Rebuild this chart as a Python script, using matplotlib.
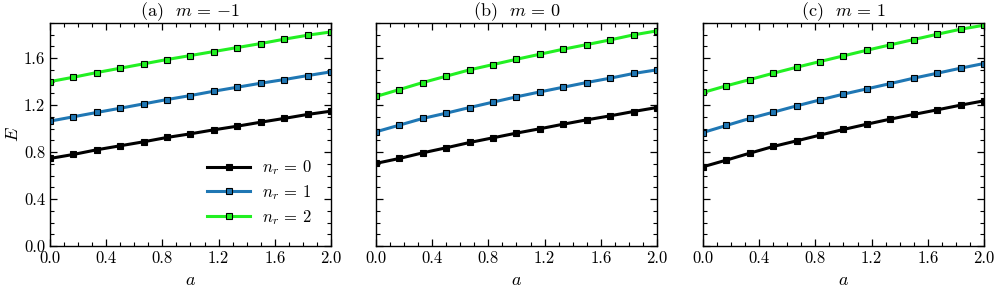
import numpy as np, matplotlib
matplotlib.use("Agg")
import matplotlib.pyplot as plt
from matplotlib.ticker import MultipleLocator

plt.rcParams.update({"font.family": "serif", "font.serif": ["cmr10"], "mathtext.fontset": "cm",
    "axes.formatter.use_mathtext": True, "font.size": 12, "axes.linewidth": 1.0,
    "xtick.direction": "in", "ytick.direction": "in", "xtick.top": True, "ytick.right": True})

a = np.linspace(0, 2, 13)
TITLES = ["(a)  $m\\,=\\,{-1}$", "(b)  $m\\,=\\,0$", "(c)  $m\\,=\\,1$"]
LABELS = ["$n_r\\,=\\,0$", "$n_r\\,=\\,1$", "$n_r\\,=\\,2$"]
COLORS = ["black", "#1f77b4", "#22f022"]

# E(a) per panel, rows n_r = 0,1,2
E_m_neg1 = [
    [0.746, 0.780, 0.820, 0.854, 0.888, 0.925, 0.956, 0.990, 1.021, 1.055, 1.087, 1.121, 1.149],
    [1.064, 1.101, 1.138, 1.174, 1.211, 1.248, 1.282, 1.319, 1.353, 1.387, 1.418, 1.452, 1.484],
    [1.401, 1.438, 1.478, 1.515, 1.552, 1.589, 1.623, 1.657, 1.691, 1.725, 1.762, 1.796, 1.824],
]
E_m0 = [
    [0.704, 0.746, 0.794, 0.837, 0.882, 0.922, 0.962, 0.999, 1.038, 1.075, 1.109, 1.146, 1.180],
    [0.973, 1.030, 1.087, 1.132, 1.180, 1.226, 1.271, 1.313, 1.353, 1.393, 1.430, 1.470, 1.501],
    [1.274, 1.333, 1.393, 1.447, 1.501, 1.546, 1.591, 1.634, 1.677, 1.716, 1.756, 1.799, 1.833],
]
E_m1 = [
    [0.675, 0.732, 0.791, 0.848, 0.896, 0.945, 0.993, 1.038, 1.081, 1.121, 1.160, 1.200, 1.237],
    [0.967, 1.027, 1.087, 1.140, 1.194, 1.245, 1.294, 1.339, 1.384, 1.430, 1.472, 1.515, 1.555],
    [1.308, 1.365, 1.418, 1.472, 1.523, 1.572, 1.620, 1.668, 1.714, 1.759, 1.804, 1.847, 1.881],
]
DATA = [E_m_neg1, E_m0, E_m1]

fig = plt.figure(figsize=(9.96, 2.92), dpi=100)
lefts = [0.0502, 0.3775, 0.7058]
w, b, h = 0.2821, 0.1575, 0.7637
for k, (L, E) in enumerate(zip(lefts, DATA)):
    ax = fig.add_axes([L, b, w, h])
    for n in range(3):
        ax.plot(a, E[n], color=COLORS[n], lw=2.2, marker="s", ms=4.8, mec="black", mew=0.8, label=LABELS[n])
    ax.set_xlim(0, 2); ax.set_ylim(0, 1.9)
    ax.xaxis.set_major_locator(MultipleLocator(0.4)); ax.xaxis.set_minor_locator(MultipleLocator(0.1))
    ax.yaxis.set_major_locator(MultipleLocator(0.4)); ax.yaxis.set_minor_locator(MultipleLocator(0.1))
    ax.tick_params(which="major", length=5, width=0.9, direction="in", top=True, right=True)
    ax.tick_params(which="minor", length=3, width=0.8, direction="in", top=True, right=True)
    ax.xaxis.set_major_formatter(matplotlib.ticker.FormatStrFormatter("%.1f"))
    ax.yaxis.set_major_formatter(matplotlib.ticker.FormatStrFormatter("%.1f"))
    ax.set_title(TITLES[k], fontsize=13, pad=3)
    ax.set_xlabel("$a$", fontsize=13, labelpad=5)
    if k == 0:
        ax.set_ylabel("$E$", fontsize=13, labelpad=2)
        ax.legend(loc="lower right", frameon=False, fontsize=12, handlelength=2.6, labelspacing=0.35,
                  handletextpad=0.7, bbox_to_anchor=(0.985, 0.02))
    else:
        ax.set_yticklabels([])

fig.savefig("out.png", dpi=100)
